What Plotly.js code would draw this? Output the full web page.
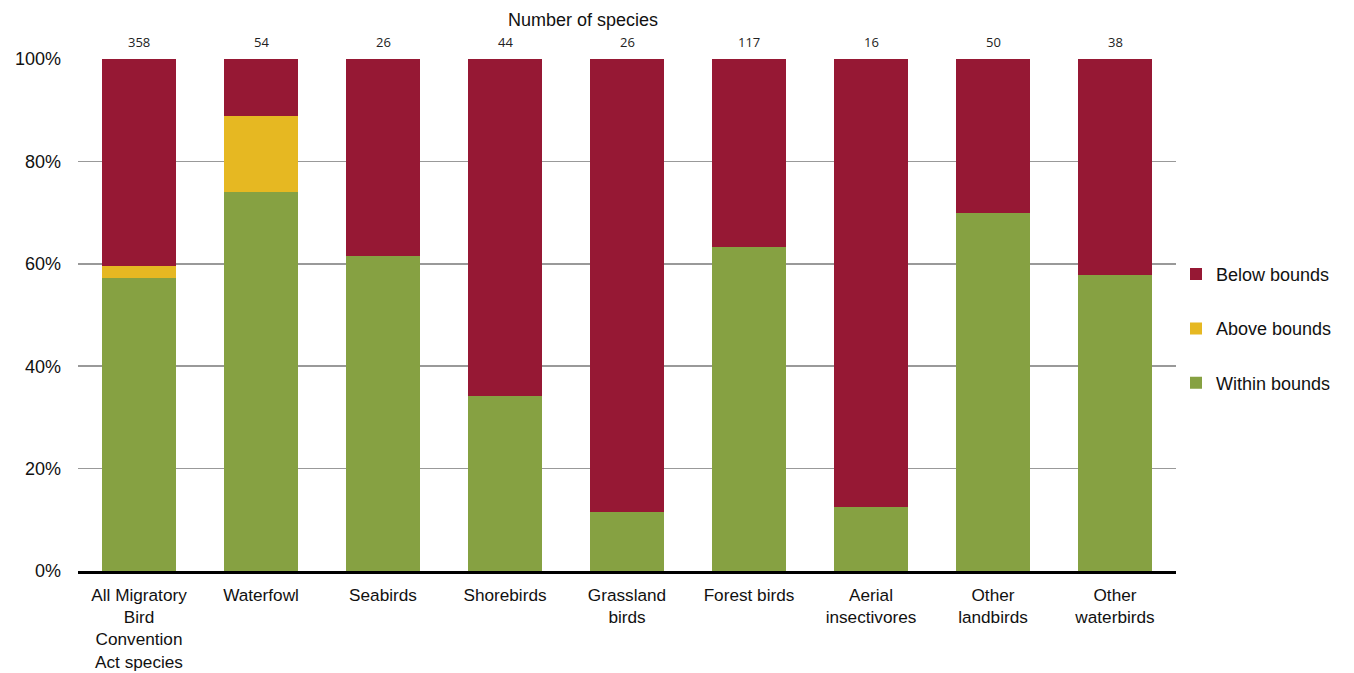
<!DOCTYPE html>
<html><head><meta charset="utf-8">
<script src="https://cdn.plot.ly/plotly-3.0.1.min.js"></script>
<style>body{margin:0;background:#fff}#c{width:1354px;height:673px}</style>
</head><body><div id="c"></div>
<script>
const categories = ["All Migratory<br>Bird<br>Convention<br>Act species","Waterfowl","Seabirds","Shorebirds","Grassland<br>birds","Forest birds","Aerial<br>insectivores","Other<br>landbirds","Other<br>waterbirds"];
const speciesCounts = [358,54,26,44,26,117,16,50,38];
const within = [57.3,74.1,61.5,34.1,11.5,63.2,12.5,70.0,57.9];
const above  = [2.2,14.8,0,0,0,0,0,0,0];
const below  = [40.5,11.1,38.5,65.9,88.5,36.8,87.5,30.0,42.1];

const x = categories.map((c,i)=>i);
const mk = (name,y,color,g,r)=>({type:'bar',name:name,x:x,y:y,marker:{color:color},width:0.6,legendgroup:g,legendrank:r,hoverinfo:'y+name'});
const data = [
  mk('Within bounds',within,'#86a142','c',3),
  mk('Above bounds',above,'#e6b822','b',2),
  mk('Below bounds',below,'#961834','a',1)
];
const ann = speciesCounts.map((n,i)=>({x:i,y:1,xref:'x',yref:'paper',yanchor:'bottom',yshift:6,text:String(n),showarrow:false,font:{family:'Open Sans, DejaVu Sans',size:13,color:'#222'}}));
ann.push({x:0.46,y:1,xref:'paper',yref:'paper',yanchor:'bottom',yshift:27,text:'Number of species',showarrow:false,font:{family:'Liberation Sans, Arial',size:18,color:'#111'}});
const layout = {
  width:1354,height:673,barmode:'stack',
  margin:{l:78,r:178,t:59,b:102,autoexpand:false},
  paper_bgcolor:'#fff',plot_bgcolor:'#fff',
  font:{family:'Liberation Sans, Arial',size:18,color:'#111'},
  xaxis:{tickmode:'array',tickvals:x,ticktext:categories,range:[-0.5,8.5],showline:true,linecolor:'#000',linewidth:3,ticks:'',showgrid:false,zeroline:false,tickfont:{size:17.2},ticklabelstandoff:6},
  yaxis:{range:[0,100],tickvals:[0,20,40,60,80,100],ticktext:['0%','20%','40%','60%','80%','100%'],showgrid:true,gridcolor:'#999',gridwidth:1.5,zeroline:false,showline:false,ticks:'',tickfont:{size:18},ticklabelstandoff:16},
  legend:{x:1.0,y:0.473,yanchor:'middle',xanchor:'left',traceorder:'grouped',tracegroupgap:28,itemwidth:30,font:{size:18},bgcolor:'rgba(0,0,0,0)'},
  annotations:ann,
  bargap:0.4
};
Plotly.newPlot('c',data,layout,{displayModeBar:false,staticPlot:true});
</script></body></html>
